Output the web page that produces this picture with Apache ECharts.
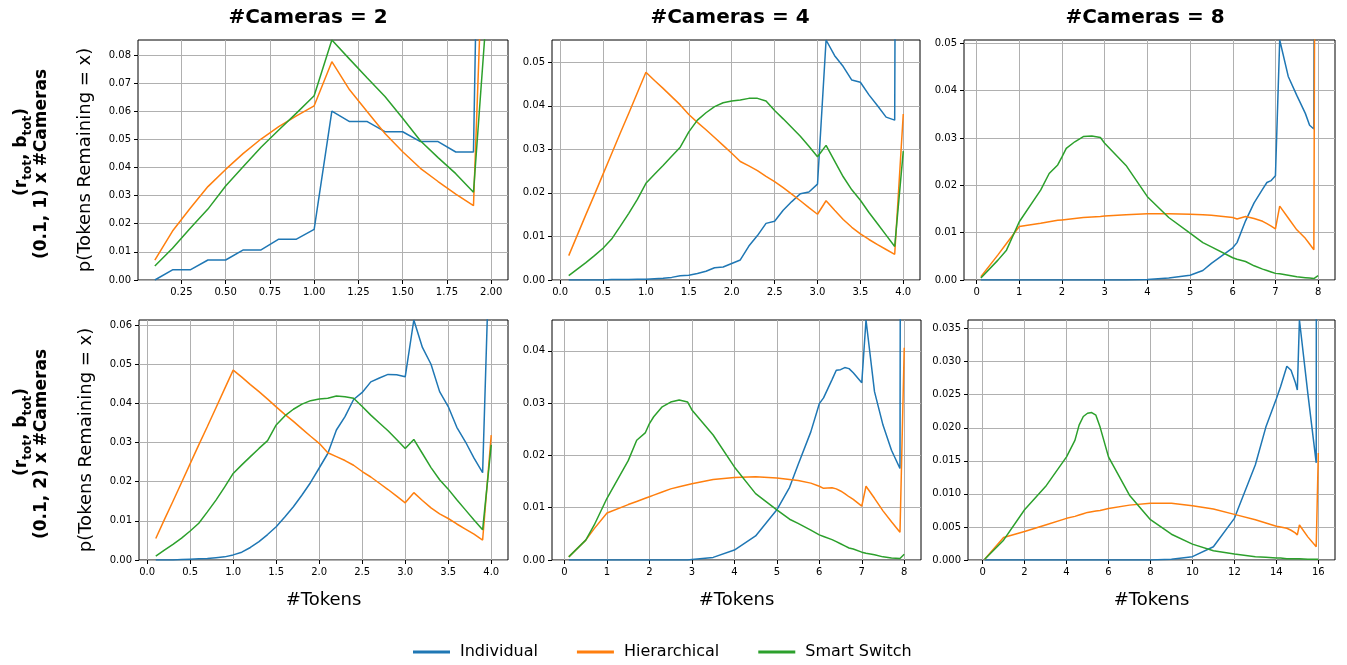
<!DOCTYPE html>
<html>
<head>
<meta charset="utf-8">
<script src="https://cdn.jsdelivr.net/npm/echarts@6.0.0/dist/echarts.min.js"></script>
<style>
  html, body { margin: 0; padding: 0; background: #fff; }
  #chart { width: 1347px; height: 665px; }
</style>
</head>
<body>
<div id="chart"></div>
<script>
  // series names / column titles
  const seriesNames = ['Individual', 'Hierarchical', 'Smart Switch'];
  const colTitles = ['#Cameras = 2', '#Cameras = 4', '#Cameras = 8'];

  // row 1, #Cameras = 2
  const xA = [0.1,0.2,0.3,0.4,0.5,0.6,0.7,0.8,0.9,1.0,1.1,1.2,1.3,1.4,1.5,1.6,1.7,1.8,1.9,2.0];
  const indA = [0,0.0036,0.0036,0.0071,0.0071,0.0107,0.0107,0.0145,0.0145,0.018,0.060,0.0563,0.0563,0.0527,0.0527,0.0492,0.0492,0.0455,0.0455,0.40];
  const hierA = [0.0071,0.0174,0.0255,0.0332,0.0393,0.045,0.0501,0.0545,0.0583,0.0619,0.0776,0.0676,0.0598,0.0521,0.0456,0.0397,0.035,0.0305,0.0264,0.20];
  const smartA = [0.005,0.0113,0.0184,0.0252,0.0334,0.0403,0.0472,0.0533,0.0593,0.0655,0.0853,0.0785,0.0718,0.0652,0.0575,0.0495,0.0435,0.0378,0.0312,0.118];

  // row 1, #Cameras = 4
  const xB = [0.1,0.2,0.3,0.4,0.5,0.6,0.7,0.8,0.9,1.0,1.1,1.2,1.3,1.4,1.5,1.6,1.7,1.8,1.9,2.0,
              2.1,2.2,2.3,2.4,2.5,2.6,2.7,2.8,2.9,3.0,3.1,3.2,3.3,3.4,3.5,3.6,3.7,3.8,3.9,4.0];
  const indB = [0,0,0,0,0,0.0001,0.0001,0.0001,0.0002,0.0002, 0.0003,0.0004,0.0006,0.001,0.0011,0.0015,0.002,0.0028,0.003,0.0038,
                0.0046,0.0078,0.0102,0.013,0.0135,0.016,0.018,0.0198,0.0202,0.022, 0.0551,0.0515,0.049,0.0459,0.0454,0.0425,0.040,0.0374,0.0367,0.6];
  const hierB = [0.0056,0.0103,0.015,0.0196,0.0243,0.029,0.0337,0.0383,0.043,0.0477, 0.0458,0.044,0.0421,0.0402,0.038,0.0362,0.0345,0.0327,0.0309,0.0291,
                 0.0272,0.0262,0.0251,0.0238,0.0226,0.0212,0.0197,0.0182,0.0166,0.0151, 0.0182,0.016,0.0139,0.0121,0.0106,0.0093,0.0081,0.007,0.0059,0.0381];
  const smartB = [0.001,0.0025,0.004,0.0056,0.0073,0.0094,0.0123,0.0153,0.0185,0.0222, 0.0243,0.0263,0.0284,0.0305,0.034,0.0367,0.0384,0.0398,0.0407,0.0411,
                  0.0413,0.0417,0.0417,0.0411,0.0389,0.037,0.035,0.033,0.0307,0.0283, 0.0309,0.0273,0.0237,0.0207,0.0183,0.0155,0.0129,0.0103,0.0077,0.0296];

  // row 1, #Cameras = 8
  const xC = [0.1,0.5,0.7,1.0,1.5,1.7,1.9,2.0,2.1,2.3,2.5,2.7,2.9,3.0,3.5,4.0,4.5,5.0,5.3,5.5,
              6.0,6.1,6.3,6.5,6.7,6.8,6.9,7.0,7.1,7.3,7.5,7.7,7.8,7.9,8.0];
  const indC = [0,0,0,0,0,0,0,0,0,0,0,0,0,0,0,0.0001,0.0004,0.001,0.002,0.0035,
                0.0068,0.0079,0.0125,0.0163,0.0192,0.0206,0.021,0.022,0.0507,0.043,0.039,0.0352,0.0327,0.0319,0.5];
  const hierC = [0.0007,0.0053,0.0077,0.0113,0.012,0.0123,0.0126,0.0127,0.0128,0.013,0.0132,0.0133,0.0134,0.0135,0.0138,0.014,0.014,0.0139,0.0138,0.0137,
                 0.0132,0.0129,0.0134,0.013,0.0124,0.0119,0.0114,0.0108,0.0156,0.0131,0.0106,0.0088,0.0076,0.0064,0.3];
  const smartC = [0.0004,0.0042,0.0063,0.0123,0.019,0.0225,0.0243,0.026,0.0278,0.0292,0.0303,0.0304,0.0301,0.0289,0.0242,0.0176,0.0132,0.0099,0.0079,0.007,
                  0.0047,0.0044,0.0039,0.003,0.0023,0.002,0.0017,0.0014,0.0013,0.001,0.0007,0.0005,0.0004,0.0003,0.0009];

  // row 2, #Cameras = 2
  const xD = xB;
  const indD = [0,0,0,0.0001,0.0002,0.0003,0.0004,0.0006,0.0008,0.0013, 0.002,0.0032,0.0047,0.0065,0.0085,0.011,0.0136,0.0166,0.0198,0.0235,
                0.0272,0.0332,0.0366,0.041,0.0428,0.0455,0.0465,0.0474,0.0473,0.0468, 0.0613,0.0543,0.05,0.043,0.0392,0.0339,0.0302,0.026,0.0223,0.095];
  const hierD = [0.0055,0.0103,0.015,0.0198,0.0246,0.0294,0.0341,0.0389,0.0437,0.0485, 0.0467,0.0448,0.043,0.0411,0.0391,0.0372,0.0354,0.0335,0.0316,0.0298,
                 0.0274,0.0264,0.0254,0.0242,0.0226,0.0212,0.0196,0.018,0.0163,0.0146, 0.0172,0.0152,0.0133,0.0118,0.0106,0.0092,0.0079,0.0066,0.0051,0.0319];
  const smartD = [0.001,0.0025,0.004,0.0056,0.0074,0.0094,0.0123,0.0153,0.0186,0.0221, 0.0243,0.0264,0.0285,0.0305,0.0345,0.0368,0.0385,0.0398,0.0407,0.0411,
                  0.0413,0.0419,0.0417,0.0413,0.0392,0.037,0.035,0.033,0.0308,0.0285, 0.0308,0.0272,0.0236,0.0205,0.0181,0.0154,0.0128,0.0102,0.0077,0.0294];

  // row 2, #Cameras = 4
  const xE = [0.1,0.5,0.7,1.0,1.5,1.7,1.9,2.0,2.1,2.3,2.5,2.7,2.9,3.0,3.5,4.0,4.5,5.0,5.3,5.5,
              5.8,6.0,6.1,6.3,6.4,6.5,6.6,6.7,6.8,7.0,7.1,7.3,7.5,7.7,7.9,8.0];
  const indE = [0,0,0,0,0,0,0,0,0,0,0,0,0,0.0001,0.0005,0.0019,0.0046,0.0096,0.0139,0.0182,
                0.0245,0.0299,0.031,0.0345,0.0363,0.0364,0.0368,0.0366,0.0358,0.0339,0.0459,0.0322,0.0258,0.021,0.0175,0.5];
  const hierE = [0.0006,0.0038,0.006,0.009,0.0106,0.0112,0.0118,0.0121,0.0124,0.013,0.0136,0.014,0.0144,0.0146,0.0154,0.0158,0.0159,0.0157,0.0154,0.0152,
                 0.0147,0.0141,0.0137,0.0138,0.0136,0.0132,0.0127,0.0121,0.0116,0.0103,0.0141,0.0118,0.0094,0.0073,0.0053,0.0406];
  const smartE = [0.0006,0.0038,0.0067,0.0118,0.019,0.0229,0.0243,0.0261,0.0274,0.0293,0.0302,0.0306,0.0302,0.0287,0.0239,0.0178,0.0127,0.0096,0.0078,0.007,
                  0.0057,0.0048,0.0045,0.0039,0.0035,0.0031,0.0027,0.0023,0.0021,0.0015,0.0013,0.001,0.0006,0.0004,0.0003,0.0011];

  // row 2, #Cameras = 8
  const xF = [0.1,1.0,2.0,3.0,4.0,4.4,4.6,4.8,5.0,5.2,5.4,5.6,6.0,7.0,8.0,9.0,10.0,11.0,12.0,13.0,
              13.5,14.0,14.2,14.5,14.7,14.9,15.0,15.1,15.5,15.9,16.0];
  const indF = [0,0,0,0,0,0,0,0,0,0,0,0,0,0,0,0.0001,0.0005,0.002,0.0063,0.0144,
                0.0201,0.0244,0.0262,0.0293,0.0287,0.0269,0.0257,0.0363,0.0252,0.0147,0.5];
  const hierF = [0.0001,0.0034,0.0043,0.0053,0.0063,0.0066,0.0068,0.007,0.0072,0.0073,0.0074,0.0075,0.0078,0.0083,0.0086,0.0086,0.0082,0.0077,0.0069,0.0061,
                 0.0056,0.0051,0.005,0.0048,0.0045,0.0041,0.0038,0.0053,0.0035,0.002,0.0162];
  const smartF = [0.0001,0.003,0.0076,0.0111,0.0156,0.0181,0.0204,0.0217,0.0222,0.0223,0.0219,0.0201,0.0156,0.0098,0.0061,0.0039,0.0024,0.0014,0.0009,0.0005,
                  0.0004,0.0003,0.0003,0.0002,0.0002,0.0002,0.0002,0.0002,0.0001,0.0001,0.0001];

  // tick labels
  const xTicksA = [0.25,0.5,0.75,1.0,1.25,1.5,1.75,2.0];
  const xTicks4 = [0,0.5,1,1.5,2,2.5,3,3.5,4];
  const xTicks8 = [0,1,2,3,4,5,6,7,8];
  const xTicks16 = [0,2,4,6,8,10,12,14,16];
  const yTicksA = [0,0.01,0.02,0.03,0.04,0.05,0.06,0.07,0.08];
  const yTicksB = [0,0.01,0.02,0.03,0.04,0.05];
  const yTicksC = [0,0.01,0.02,0.03,0.04,0.05];
  const yTicksD = [0,0.01,0.02,0.03,0.04,0.05,0.06];
  const yTicksE = [0,0.01,0.02,0.03,0.04];
  const yTicksF = [0,0.005,0.01,0.015,0.02,0.025,0.03,0.035];

  const colors = ['#1f77b4', '#ff7f0e', '#2ca02c'];
  const font = 'DejaVu Sans';

  const panels = [
    {x: xA, ys: [indA, hierA, smartA], xt: xTicksA, xd: 2, yt: yTicksA, yd: 2, xmin: 0.005, xmax: 2.095, ymax: 0.0853,
     pos: {left: 138, top: 40, width: 370, height: 240}, ylab: true},
    {x: xB, ys: [indB, hierB, smartB], xt: xTicks4, xd: 1, yt: yTicksB, yd: 2, xmin: -0.095, xmax: 4.195, ymax: 0.0551,
     pos: {left: 552, top: 40, width: 368, height: 240}},
    {x: xC, ys: [indC, hierC, smartC], xt: xTicks8, xd: 0, yt: yTicksC, yd: 2, xmin: -0.295, xmax: 8.395, ymax: 0.0507,
     pos: {left: 964, top: 40, width: 371, height: 240}},
    {x: xD, ys: [indD, hierD, smartD], xt: xTicks4, xd: 1, yt: yTicksD, yd: 2, xmin: -0.095, xmax: 4.195, ymax: 0.0613,
     pos: {left: 139, top: 320, width: 369, height: 240}, ylab: true, xlab: true},
    {x: xE, ys: [indE, hierE, smartE], xt: xTicks8, xd: 0, yt: yTicksE, yd: 2, xmin: -0.295, xmax: 8.395, ymax: 0.0459,
     pos: {left: 552, top: 320, width: 369, height: 240}, xlab: true},
    {x: xF, ys: [indF, hierF, smartF], xt: xTicks16, xd: 0, yt: yTicksF, yd: 3, xmin: -0.695, xmax: 16.795, ymax: 0.0363,
     pos: {left: 968, top: 320, width: 367, height: 240}, xlab: true}
  ];

  let grid = [], xAxis = [], yAxis = [], series = [];
  panels.forEach(function (p, i) {
    // the grid border draws the black frame, axis lines are hidden
    grid.push(Object.assign({show: true, borderColor: '#000', borderWidth: 1, backgroundColor: 'transparent'}, p.pos));
    xAxis.push({
      type: 'value', gridIndex: i, min: p.xmin, max: p.xmax,
      name: p.xlab ? '#Tokens' : '', nameLocation: 'middle', nameGap: 31,
      nameTextStyle: {fontFamily: font, fontSize: 18, color: '#000'},
      axisLine: {show: false, onZero: false},
      axisTick: {show: true, length: 4, customValues: p.xt, lineStyle: {color: '#000'}},
      axisLabel: {customValues: p.xt, margin: 7, fontFamily: font, fontSize: 10, color: '#000',
        formatter: function (v) { return v.toFixed(p.xd); }},
      splitLine: {show: true, lineStyle: {color: '#b0b0b0', width: 1}}
    });
    yAxis.push({
      type: 'value', gridIndex: i, min: 0, max: p.ymax,
      name: p.ylab ? 'p(Tokens Remaining = x)' : '', nameLocation: 'middle', nameGap: 44, nameRotate: 90,
      nameTextStyle: {fontFamily: font, fontSize: 18, color: '#000'},
      axisLine: {show: false, onZero: false},
      axisTick: {show: true, length: 4, customValues: p.yt, lineStyle: {color: '#000'}},
      axisLabel: {customValues: p.yt, margin: 7, fontFamily: font, fontSize: 10, color: '#000',
        formatter: function (v) { return v.toFixed(p.yd); }},
      splitLine: {show: true, lineStyle: {color: '#b0b0b0', width: 1}}
    });
    p.ys.forEach(function (ys, k) {
      series.push({
        name: seriesNames[k], type: 'line', xAxisIndex: i, yAxisIndex: i,
        data: p.x.map(function (xv, j) { return [xv, ys[j]]; }),
        showSymbol: false, symbol: 'none', clip: true,
        lineStyle: {color: colors[k], width: 1.5}, itemStyle: {color: colors[k]},
        animation: false
      });
    });
  });

  const titleX = [308, 730, 1145];
  const graphics = titleX.map(function (x, i) {
    return {type: 'text', x: x, y: 18, style: {text: colTitles[i], fontFamily: font, fontSize: 20, fontWeight: 'bold',
      fill: '#000', align: 'center', verticalAlign: 'middle'}};
  });

  const rowLabels = ['(0.1, 1) x #Cameras', '(0.1, 2) x #Cameras'];
  const rowCenters = [160, 440];
  rowCenters.forEach(function (c, r) {
    graphics.push({type: 'text', x: 22, y: c - 8, rotation: Math.PI / 2,
      style: {text: '{b|(r}{s|tot}{b|, b}{s|tot}{b|)}', align: 'center', verticalAlign: 'middle', fill: '#000',
        rich: {
          b: {fontFamily: font, fontSize: 17, fontWeight: 'bold', lineHeight: 24, fill: '#000'},
          s: {fontFamily: font, fontSize: 12, fontWeight: 'bold', lineHeight: 24, verticalAlign: 'bottom', fill: '#000'}
        }}});
    graphics.push({type: 'text', x: 42, y: c + 4, rotation: Math.PI / 2,
      style: {text: rowLabels[r], fontFamily: font, fontSize: 17, fontWeight: 'bold', fill: '#000',
        align: 'center', verticalAlign: 'middle'}});
  });

  const chart = echarts.init(document.getElementById('chart'));
  chart.setOption({
    backgroundColor: '#fff',
    animation: false,
    legend: {
      data: seriesNames, left: 413, top: 644, padding: 0, icon: 'rect', itemWidth: 37, itemHeight: 3, itemGap: 39,
      textStyle: {fontFamily: font, fontSize: 16, color: '#000', padding: [0, 0, 0, 5]}
    },
    grid: grid, xAxis: xAxis, yAxis: yAxis, series: series,
    graphic: graphics
  });
</script>
</body>
</html>
